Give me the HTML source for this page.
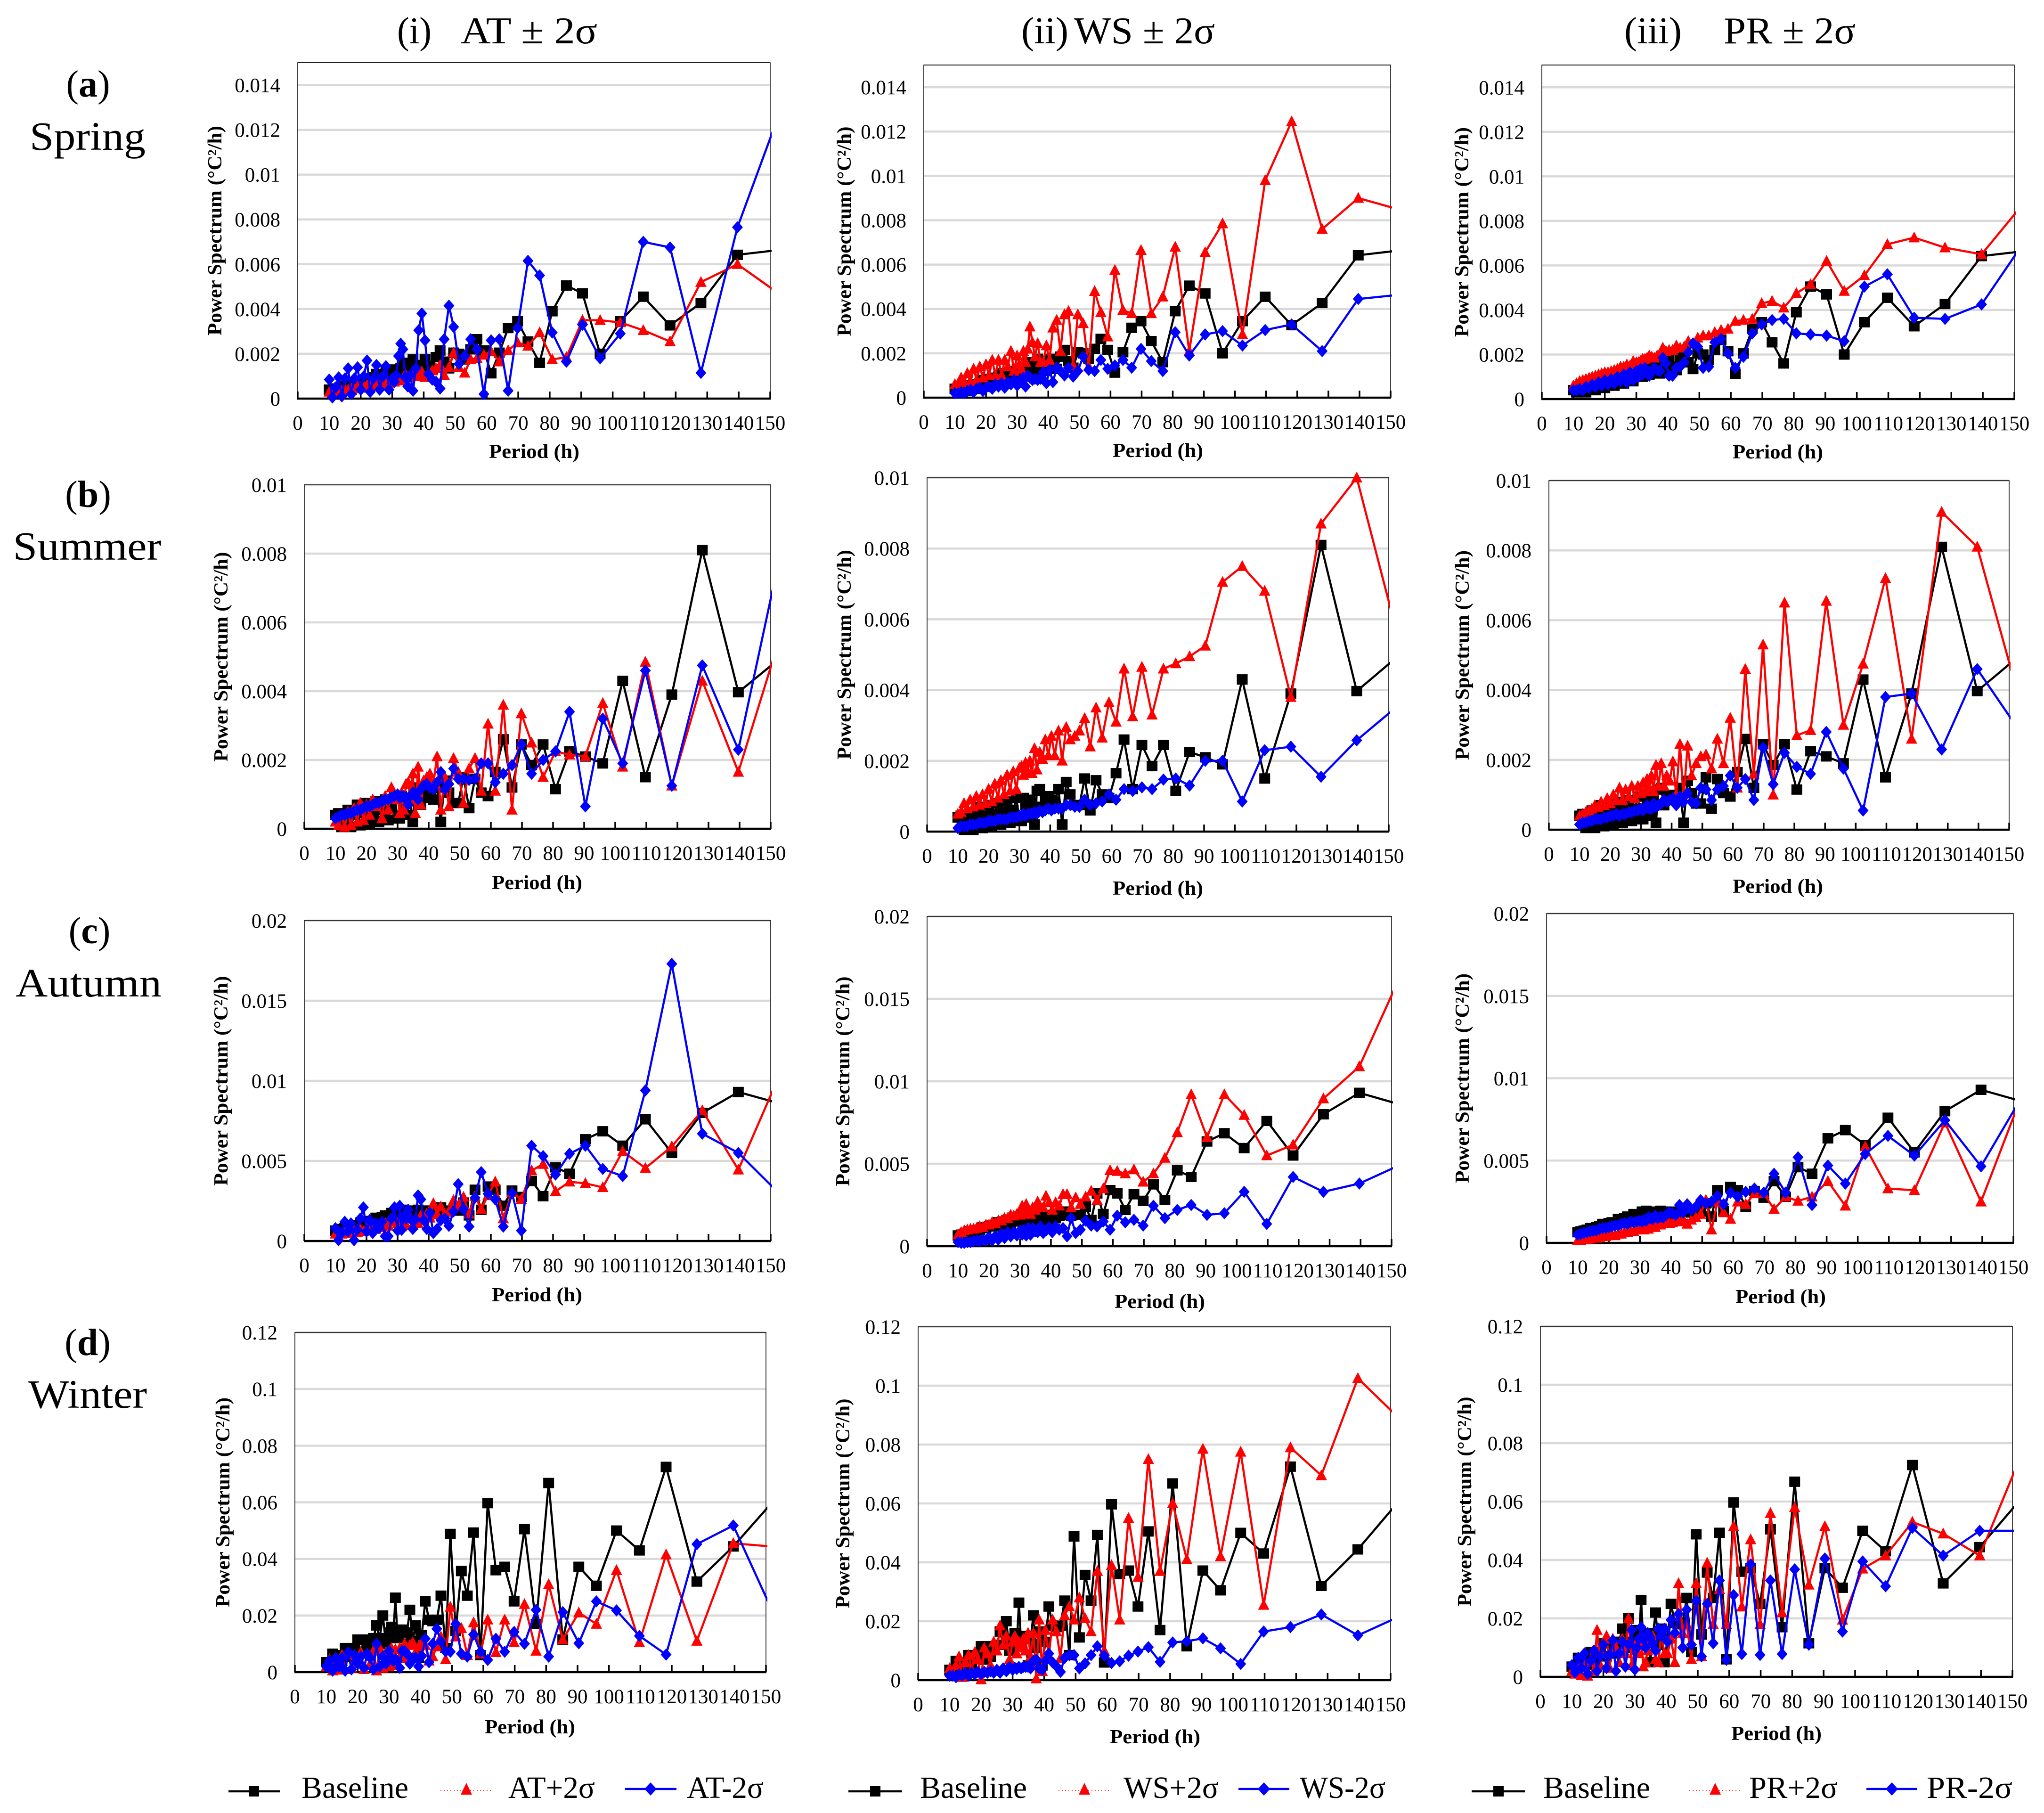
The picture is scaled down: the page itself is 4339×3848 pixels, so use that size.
<!DOCTYPE html>
<html lang="en">
<head>
<meta charset="utf-8">
<title>Power spectrum by season and perturbation</title>
<style>
html,body{margin:0;padding:0;background:#fff;}
svg{display:block;}
text{font-family:"Liberation Serif",serif;fill:#000;}
</style>
</head>
<body>
<svg id="figure" xmlns="http://www.w3.org/2000/svg" width="4339" height="3848" viewBox="0 0 4339 3848">
<rect x="0" y="0" width="4339" height="3848" fill="#fff"/>

<g font-size="80">
<text x="843" y="92" textLength="73" lengthAdjust="spacingAndGlyphs">(i)</text>
<text x="978" y="92" textLength="290" lengthAdjust="spacingAndGlyphs">AT ± 2σ</text>
<text x="2168" y="92" textLength="100" lengthAdjust="spacingAndGlyphs">(ii)</text>
<text x="2280" y="92" textLength="299" lengthAdjust="spacingAndGlyphs">WS ± 2σ</text>
<text x="3448" y="92" textLength="122" lengthAdjust="spacingAndGlyphs">(iii)</text>
<text x="3659" y="92" textLength="280" lengthAdjust="spacingAndGlyphs">PR ± 2σ</text>
</g>

<g font-size="86" text-anchor="middle">
<text x="187" y="205" font-size="80">(<tspan font-weight="bold">a</tspan>)</text>
<text x="186" y="318" textLength="246" lengthAdjust="spacingAndGlyphs">Spring</text>
<text x="187" y="1076" font-size="80">(<tspan font-weight="bold">b</tspan>)</text>
<text x="185" y="1188" textLength="315" lengthAdjust="spacingAndGlyphs">Summer</text>
<text x="190" y="2002" font-size="80">(<tspan font-weight="bold">c</tspan>)</text>
<text x="188" y="2115" textLength="310" lengthAdjust="spacingAndGlyphs">Autumn</text>
<text x="186" y="2876" font-size="80">(<tspan font-weight="bold">d</tspan>)</text>
<text x="186" y="2988" textLength="252" lengthAdjust="spacingAndGlyphs">Winter</text>
</g>

<g id="panels"></g>

<g font-size="66">
<g>
<line x1="485" y1="3802" x2="594" y2="3802" stroke="#000" stroke-width="4.5"/>
<rect x="528" y="3791" width="22" height="22" fill="#000"/>
<text x="640" y="3816" textLength="227" lengthAdjust="spacingAndGlyphs">Baseline</text>
</g>
<g>
<line x1="935" y1="3800" x2="1045" y2="3800" stroke="#f00" stroke-width="1.5" stroke-dasharray="2 5"/>
<polygon points="990,3784 1002,3809 978,3809" fill="#f00"/>
<text x="1079" y="3816" textLength="184" lengthAdjust="spacingAndGlyphs">AT+2σ</text>
</g>
<g>
<line x1="1327" y1="3797" x2="1436" y2="3797" stroke="#00f" stroke-width="4.5"/>
<polygon points="1381,3783 1394,3797 1381,3811 1368,3797" fill="#00f"/>
<text x="1458" y="3816" textLength="163" lengthAdjust="spacingAndGlyphs">AT-2σ</text>
</g>
</g>
<g font-size="66">
<g>
<line x1="1801" y1="3802" x2="1915" y2="3802" stroke="#000" stroke-width="4.5"/>
<rect x="1847" y="3791" width="22" height="22" fill="#000"/>
<text x="1953" y="3816" textLength="227" lengthAdjust="spacingAndGlyphs">Baseline</text>
</g>
<g>
<line x1="2247" y1="3800" x2="2357" y2="3800" stroke="#f00" stroke-width="1.5" stroke-dasharray="2 5"/>
<polygon points="2302,3784 2314,3809 2290,3809" fill="#f00"/>
<text x="2385" y="3816" textLength="202" lengthAdjust="spacingAndGlyphs">WS+2σ</text>
</g>
<g>
<line x1="2629" y1="3797" x2="2737" y2="3797" stroke="#00f" stroke-width="4.5"/>
<polygon points="2683,3783 2696,3797 2683,3811 2670,3797" fill="#00f"/>
<text x="2759" y="3816" textLength="182" lengthAdjust="spacingAndGlyphs">WS-2σ</text>
</g>
</g>
<g font-size="66">
<g>
<line x1="3124" y1="3802" x2="3237" y2="3802" stroke="#000" stroke-width="4.5"/>
<rect x="3170" y="3791" width="22" height="22" fill="#000"/>
<text x="3276" y="3816" textLength="227" lengthAdjust="spacingAndGlyphs">Baseline</text>
</g>
<g>
<line x1="3586" y1="3800" x2="3696" y2="3800" stroke="#f00" stroke-width="1.5" stroke-dasharray="2 5"/>
<polygon points="3641,3784 3653,3809 3629,3809" fill="#f00"/>
<text x="3713" y="3816" textLength="188" lengthAdjust="spacingAndGlyphs">PR+2σ</text>
</g>
<g>
<line x1="3962" y1="3797" x2="4070" y2="3797" stroke="#00f" stroke-width="4.5"/>
<polygon points="4016,3783 4029,3797 4016,3811 4003,3797" fill="#00f"/>
<text x="4090" y="3816" textLength="182" lengthAdjust="spacingAndGlyphs">PR-2σ</text>
</g>
</g>
</svg>

<script>
// Shared categories (period in hours) and tick labels
const periods = [153.6,139.6,128,118.2,109.7,102.4,96,90.4,85.3,80.8,
76.8,73.1,69.8,66.8,64,61.4,59.1,56.9,54.9,53,
51.2,49.5,48,46.5,45.2,43.9,42.7,41.5,40.4,39.4,
38.4,37.5,36.6,35.7,34.9,34.1,33.4,32.7,32,31.3,
30.7,30,29,28,27,26,25,24,23,22,21,20,19,18,17,16,15,14,13,12,11,10];
const xTickLabels = ["0","10","20","30","40","50","60","70","80","90","100","110","120","130","140","150"];
const springYTicks = ["0","0.002","0.004","0.006","0.008","0.01","0.012","0.014"];
const summerYTicks = ["0","0.002","0.004","0.006","0.008","0.01"];
const autumnYTicks = ["0","0.005","0.01","0.015","0.02"];
const winterYTicks = ["0","0.02","0.04","0.06","0.08","0.1","0.12"];

// Series values, in units of 0.001 degC^2/h
const springBaseline = [6.65,6.42,4.27,3.27,4.55,3.45,2.0,4.7,5.05,3.9,
1.6,2.55,3.45,3.15,2.05,1.13,2.15,2.65,2.2,1.75,
2.0,2.05,1.35,1.65,2.15,1.85,1.3,1.45,1.75,1.2,
1.5,1.15,1.75,1.3,1.5,1.1,1.6,1.35,1.0,1.2,
1.1,1.3,.8,1.2,1.05,.7,1.1,.95,.6,.9,.85,.5,.8,.65,.4,.6,.55,.3,.45,.45,.3,.4];
const springATplus = [4.6,6.0,5.2,2.55,3.05,3.4,3.5,3.5,1.85,1.75,
2.95,2.35,2.5,2.15,1.65,2.1,1.95,1.8,1.75,1.15,
1.4,2.05,1.4,1.05,1.5,1.35,1.25,1.05,.95,1.2,
1.0,1.0,1.05,1.0,.95,1.1,.85,.8,.9,.8,
.75,.75,.7,.8,.65,.6,.65,.7,.55,.6,.6,.5,.55,.45,.45,.4,.4,.35,.35,.3,.3,.3];
const springATminus = [13.0,7.65,1.15,6.75,7.0,2.9,1.8,3.3,1.65,2.95,
5.5,6.15,3.15,.35,2.65,2.6,.2,2.2,2.65,1.9,
1.55,3.2,4.15,2.65,.45,.75,.85,1.1,2.6,3.8,
3.05,1.35,.35,1.05,.55,.95,2.2,2.45,1.9,1.05,
.75,.9,.4,1.45,1.0,.4,1.5,.9,.3,1.7,1.0,.4,1.4,.9,.2,1.35,.9,.1,.95,.5,.05,.85];
const springWSplus = [8.45,9.0,7.6,12.45,9.8,2.85,7.85,6.55,2.1,6.8,
4.55,3.8,6.65,3.8,3.95,5.75,2.75,3.85,4.8,1.4,
3.35,3.75,1.45,3.9,3.75,2.1,3.5,3.15,1.7,2.35,
1.6,1.6,2.45,1.85,2.5,3.2,2.2,1.6,2.1,1.3,
1.5,1.9,1.2,2.1,1.4,1.7,1.0,1.7,1.0,1.7,1.0,1.5,.9,1.4,.8,1.3,.7,1.1,.7,.9,.6,.6];
const springWSminus = [4.65,4.45,2.1,3.3,3.05,2.35,3.0,2.85,1.9,2.95,
1.2,1.65,2.2,1.35,1.7,1.45,1.3,1.7,1.2,1.25,
1.85,1.2,.95,1.35,1.0,1.2,1.35,.7,1.25,.65,
1.15,.85,.8,.85,.8,.9,1.0,.5,.9,.7,
.75,.55,.8,.6,.7,.45,.65,.5,.6,.4,.5,.45,.3,.45,.4,.25,.35,.3,.2,.25,.2,.2];
const springPRplus = [8.9,6.5,6.8,7.25,6.95,5.55,4.85,6.2,5.15,4.75,
4.1,4.4,4.3,3.6,3.55,3.5,3.15,3.1,3.0,2.85,
2.85,2.75,2.5,2.6,2.35,2.3,2.4,2.2,2.2,2.15,
2.3,2.0,1.95,1.85,1.9,1.95,1.85,1.8,1.8,1.7,
1.65,1.65,1.7,1.5,1.55,1.45,1.45,1.35,1.3,1.25,1.2,1.2,1.15,1.1,1.05,1.0,.95,.9,.85,.8,.7,.6];
const springPRminus = [7.15,4.25,3.6,3.65,5.6,5.05,2.6,2.85,2.9,2.95,
3.6,3.55,3.35,2.95,1.9,1.4,2.05,2.7,2.55,1.45,
1.4,2.35,2.5,2.1,1.65,1.45,1.4,1.05,1.05,1.6,
1.85,1.25,1.3,1.4,1.25,1.05,1.3,1.4,1.1,1.35,
1.0,1.25,.85,1.2,.75,1.1,.8,1.0,.7,.9,.65,.85,.6,.75,.55,.65,.5,.55,.4,.45,.4,.4];

const summerBaseline = [5.0,3.97,8.1,3.9,1.5,4.3,1.9,2.1,2.25,1.15,
2.45,1.85,2.45,1.2,2.6,1.65,.95,1.05,1.45,.6,
1.5,.75,.75,1.05,1.4,.2,1.2,.85,.9,1.0,
.95,.7,1.2,1.15,.2,.8,.9,.4,.75,.95,
.3,.3,.95,.6,.25,.85,.55,.2,.8,.5,.15,.75,.45,.1,.7,.4,.05,.55,.3,.05,.45,.4];
const summerATplus = [5.75,1.65,4.3,1.25,4.85,1.8,3.65,2.1,2.15,2.25,
1.5,2.5,3.35,.55,3.6,1.1,3.05,1.1,2.05,1.75,
.75,1.65,2.05,.65,1.5,.55,2.1,1.3,1.6,1.5,
1.4,.7,1.8,.45,1.6,.85,1.35,1.3,.55,1.05,
.45,.9,.85,1.2,.55,.95,.3,.75,.65,.85,.4,.7,.25,.75,.2,.6,.1,.5,.05,.35,.1,.2];
const summerATminus = [8.2,2.3,4.75,1.25,4.6,1.9,3.2,.65,3.4,2.25,
2.0,1.6,2.45,1.85,1.6,1.35,1.9,1.9,1.45,1.42,
1.45,1.45,1.75,1.3,1.15,1.65,1.35,1.15,1.2,1.3,
1.25,1.15,.85,1.0,1.05,.95,.7,.85,.95,.95,
.9,1.0,.95,.9,.85,.85,.8,.75,.75,.7,.65,.65,.6,.55,.55,.5,.45,.45,.4,.4,.35,.3];
const summerWSplus = [5.3,10.0,8.7,3.8,6.8,7.5,7.05,5.25,4.95,4.75,
4.6,3.3,4.65,3.25,4.6,3.1,3.65,2.65,3.5,2.4,
3.2,2.85,2.7,2.6,2.95,2.0,2.85,2.15,2.7,2.15,
2.6,2.05,2.25,1.75,2.35,1.65,2.0,1.7,1.95,1.6,
1.85,1.8,1.2,1.7,1.15,1.6,1.05,1.45,.95,1.35,.85,1.2,.8,1.05,.75,1.0,.7,.9,.65,.8,.55,.5];
const summerWSminus = [3.6,2.58,1.55,2.4,2.3,.85,2.0,2.0,1.3,1.5,
1.47,1.2,1.25,1.15,1.2,.9,1.05,.85,.8,.75,
.9,.7,.7,.75,.75,.65,.65,.65,.6,.65,
.6,.55,.6,.5,.55,.5,.5,.5,.45,.5,
.45,.45,.4,.4,.4,.35,.35,.35,.35,.3,.3,.3,.25,.25,.25,.2,.2,.2,.15,.15,.15,.1];
const summerPRplus = [3.65,8.1,9.1,2.6,7.2,4.75,3.0,6.55,2.85,2.7,
6.5,1.0,5.3,1.6,4.6,1.2,3.2,1.9,2.6,1.75,
2.15,2.1,1.9,1.55,2.4,.9,2.45,1.0,1.95,1.4,
1.55,1.25,1.9,1.25,1.85,1.1,1.55,1.2,1.45,1.1,
1.35,1.05,1.25,.9,1.25,.95,1.15,.85,1.2,.85,1.0,.75,.9,.7,.8,.65,.7,.6,.55,.5,.45,.4];
const summerPRminus = [2.8,4.6,2.3,3.9,3.8,.55,1.75,2.8,1.6,1.8,
2.2,1.3,2.35,.85,1.45,1.2,1.55,1.25,1.15,.85,
1.15,1.2,.75,.8,1.05,.8,.95,.7,.9,.85,
.8,.85,.75,.7,.65,.75,.6,.6,.7,.6,
.55,.6,.55,.55,.5,.5,.45,.45,.4,.45,.4,.4,.35,.35,.3,.3,.3,.25,.25,.2,.2,.15];

const autumnBaseline = [8.55,9.3,8.0,5.5,7.6,5.95,6.85,6.35,4.2,4.6,
2.8,3.75,2.75,3.15,2.2,3.2,3.4,1.95,3.2,1.6,
2.4,1.9,1.9,1.85,1.9,2.1,1.85,1.7,1.9,1.5,
1.9,1.6,1.95,1.4,1.75,1.9,1.55,1.8,1.95,1.5,
1.9,1.7,1.5,1.75,1.3,1.6,1.5,1.3,1.45,1.2,1.25,1.2,1.1,1.15,1.0,.95,.9,.9,.8,.75,.7,.65];
const autumnATplus = [10.7,4.45,8.15,5.9,4.55,5.6,3.35,3.6,3.7,3.1,
4.8,4.4,2.6,3.05,1.4,3.7,2.85,2.0,2.8,1.7,
2.75,2.2,2.55,1.85,1.65,2.15,1.65,2.35,1.45,1.7,
1.3,1.6,1.1,1.4,1.0,1.5,1.4,1.0,1.3,.9,
1.4,1.1,1.2,1.35,.95,1.1,.9,.85,.75,.9,.65,.8,.6,.75,.55,.65,.6,.5,.55,.45,.5,.45];
const autumnATminus = [2.8,5.5,6.7,17.3,9.4,4.05,4.5,5.95,5.45,4.15,
5.3,5.95,.65,3.0,.9,2.6,2.95,4.3,2.7,.9,
2.0,3.55,1.85,.95,1.4,1.3,.75,.5,1.75,.75,
1.3,2.6,2.85,1.35,.75,1.4,1.95,1.4,1.55,.7,
2.2,.65,2.1,1.4,.3,.3,1.2,.8,1.1,.5,1.3,.6,2.1,1.4,.7,.05,1.1,.6,1.2,.5,.05,.8];
const autumnWSplus = [16.7,10.9,8.95,6.15,5.5,7.95,9.2,6.6,9.2,6.9,
5.35,4.4,3.9,4.65,4.4,4.55,4.6,3.5,2.8,3.35,
3.0,2.55,2.95,2.35,3.15,3.15,2.45,2.65,2.2,2.65,
3.05,2.35,2.4,2.7,2.2,2.35,1.95,2.05,2.55,2.0,
2.45,1.9,1.95,1.85,1.9,1.7,1.7,1.55,1.55,1.4,1.45,1.3,1.3,1.15,1.2,1.1,1.05,1.05,1.0,.95,.85,.7];
const autumnWSminus = [5.0,3.8,3.3,4.2,1.35,3.3,2.0,1.9,2.5,2.2,
1.7,2.45,1.25,1.6,1.45,1.85,1.0,1.5,1.2,1.25,
1.55,1.0,.8,1.7,.6,1.1,1.0,1.2,.85,1.15,
.95,.8,1.2,.85,.9,1.1,.7,1.1,.65,1.0,
.7,.95,.65,.85,.6,.85,.5,.75,.4,.6,.35,.55,.35,.4,.3,.35,.3,.25,.25,.2,.2,.25];
const autumnPRplus = [9.4,2.5,7.3,3.2,3.3,5.85,2.25,3.75,2.8,2.55,
2.8,2.05,3.0,3.0,2.35,2.5,1.45,1.85,2.5,.8,
2.6,1.75,1.55,1.4,1.15,1.45,1.3,1.45,1.25,1.2,
1.35,1.25,1.1,1.2,.95,1.15,1.0,.85,1.05,.8,
.95,.8,.9,.7,.75,.65,.65,.55,.55,.45,.5,.45,.4,.4,.35,.3,.3,.25,.2,.2,.15,.15];
const autumnPRminus = [9.15,4.65,7.45,5.3,6.5,5.4,3.6,4.7,2.3,5.2,
3.05,4.2,3.05,3.3,3.1,2.8,3.05,2.35,2.85,2.5,
2.4,2.6,2.2,2.0,2.35,1.85,2.3,1.7,1.8,1.85,
1.7,1.55,1.6,1.5,1.65,1.45,1.5,1.55,1.35,1.4,
1.3,1.35,1.3,1.25,1.3,1.15,1.2,1.15,1.05,1.05,1.0,.95,.9,.9,.85,.75,.75,.7,.65,.6,.55,.5];

const winterBaseline = [62,44.4,32,72.5,43,50,30.5,37.2,11.5,66.8,
17,50.5,25,37.2,36,59.7,6,49.3,27,35.7,
14.5,48.8,8.5,27,18.5,18,18.5,25,13,5,
16.5,11,22,14,5,15,15,12,26.3,12,
16,14,10,20,12,16.5,12,11.5,8,11.5,7,11.5,8.5,8,5.5,8.5,4,6,3.5,6.5,3,3.5];
const winterATplus = [44.2,45.5,11,41.5,10.5,36,17,21,11.5,31,
7.5,24,10.5,18.5,7,18.5,6.5,17.5,6,15.5,
12.5,23,4.5,12.5,9,5.5,4,9.5,10.5,9,
7,10.5,9.5,5,10,5,8.5,2.5,8,3,
8.5,2,7,1.5,8.5,.5,7.5,3,6.5,1,7,3,6,1.5,7,1,6,.8,5,.5,4.5,2];
const winterATminus = [17.8,51.8,45.2,6.2,12.8,21.8,25,10.2,21.2,5.5,
22,10,14.2,7.2,11.8,4.3,7.2,13.3,5.5,6.5,
17,7.2,7.3,10.8,15.3,10,3.5,11.8,5.7,2,
5.2,4.7,3,6.5,7.5,7.5,1.5,4,4.5,4,
5,7.5,3,5.5,2,10,1,5,6.5,1.5,5.5,3,6,1,7,.5,5,2,5,.5,4,2];
const winterWSplus = [88,102.5,69.5,79,25.5,77.5,42,78.5,41,60,
37,75,35,55,20.5,39,10,37,16.5,21,
28,20.5,25,22,7.5,16.5,20.5,8,17,3,
20.5,.5,16,8,16,10,14,11,13,9,
15,13,7,15,12,18.5,10,13,5,9,11,.2,7,9.5,3.5,8.5,6,1,8,5,2,4];
const winterWSminus = [22,15.2,22.3,18,16.5,5.5,10.8,14.2,13.2,12.8,
6.2,11.2,9.7,8.3,6.4,5.8,8.3,11.5,8.5,5.7,
4,8.5,8.5,7.5,2.8,4.7,6,9,6.5,3.5,
4,7,6.5,4,4.5,4.5,4.5,4,4.5,3.8,
4.2,3.5,4.5,3,4,2.5,3.5,2.5,3,2.5,2.8,2,2.8,2,2.5,1.5,2.5,1.5,2,1,1.5,1.5];
const winterPRplus = [78,41.5,49,53,41.5,37,19.5,51.5,31.5,58,
22,56,18,47,24,51.5,18,30,18,39,
7,32,6,18,15,32,5,13,8,8,
15,5,6,14,12,9,5,3.5,13,8,
12,9,4,20,8,13,5,10,13,3,14,8,4,16,2,6,.3,5,.5,4,1,2];
const winterPRminus = [50,50,41.5,51,31,39.5,15.5,40.5,11,36.8,
7.8,33,7.5,38.5,7.8,28,5.8,33,11.5,25,
7,26,11,23,10,21.5,15,19.5,12,16.5,
14,16.5,9,11.5,13.5,15,10,13,17,13,
10,2.5,16,11,3.5,12,8,2,12.5,7.5,3,11,7,2,9,5.5,1,8,3,6.5,1.5,4];

const SVGNS = "http://www.w3.org/2000/svg";
const panelsRoot = document.getElementById("panels");

function mk(tag, parent, attrs) {
  const el = document.createElementNS(SVGNS, tag);
  for (const k in attrs) el.setAttribute(k, attrs[k]);
  parent.appendChild(el);
  return el;
}

const panelConfigs = [
  {id:"spring-at",L:632,R:1635,T:133,B:846,yMax:15,ticks:springYTicks,yTitleX:457,xTitleX:1134,xTitleDy:126,s:[springBaseline,springATplus,springATminus]},
  {id:"spring-ws",L:1961,R:2952,T:138,B:844,yMax:15,ticks:springYTicks,yTitleX:1793,xTitleX:2458,xTitleDy:126,s:[springBaseline,springWSplus,springWSminus]},
  {id:"spring-pr",L:3273,R:4276,T:138,B:847,yMax:15,ticks:springYTicks,yTitleX:3104,xTitleX:3774,xTitleDy:126,s:[springBaseline,springPRplus,springPRminus]},
  {id:"summer-at",L:646,R:1636,T:1029,B:1759,yMax:10,ticks:summerYTicks,yTitleX:470,xTitleX:1140,xTitleDy:128,s:[summerBaseline,summerATplus,summerATminus]},
  {id:"summer-ws",L:1968,R:2948,T:1014,B:1765,yMax:10,ticks:summerYTicks,yTitleX:1793,xTitleX:2458,xTitleDy:134,s:[summerBaseline,summerWSplus,summerWSminus]},
  {id:"summer-pr",L:3288,R:4265,T:1020,B:1761,yMax:10,ticks:summerYTicks,yTitleX:3105,xTitleX:3774,xTitleDy:134,s:[summerBaseline,summerPRplus,summerPRminus]},
  {id:"autumn-at",L:646,R:1636,T:1954,B:2634,yMax:20,ticks:autumnYTicks,yTitleX:470,xTitleX:1140,xTitleDy:128,s:[autumnBaseline,autumnATplus,autumnATminus]},
  {id:"autumn-ws",L:1968,R:2954,T:1945,B:2645,yMax:20,ticks:autumnYTicks,yTitleX:1790,xTitleX:2462,xTitleDy:131,s:[autumnBaseline,autumnWSplus,autumnWSminus]},
  {id:"autumn-pr",L:3283,R:4274,T:1939,B:2638,yMax:20,ticks:autumnYTicks,yTitleX:3105,xTitleX:3780,xTitleDy:128,s:[autumnBaseline,autumnPRplus,autumnPRminus]},
  {id:"winter-at",L:626,R:1626,T:2828,B:3549,yMax:120,ticks:winterYTicks,yTitleX:474,xTitleX:1125,xTitleDy:130,s:[winterBaseline,winterATplus,winterATminus]},
  {id:"winter-ws",L:1949,R:2952,T:2816,B:3566,yMax:120,ticks:winterYTicks,yTitleX:1790,xTitleX:2452,xTitleDy:134,s:[winterBaseline,winterWSplus,winterWSminus]},
  {id:"winter-pr",L:3270,R:4272,T:2815,B:3559,yMax:120,ticks:winterYTicks,yTitleX:3110,xTitleX:3771,xTitleDy:134,s:[winterBaseline,winterPRplus,winterPRminus]}
];
const seriesColors = ["#000000","#ff0000","#0000ff"];
const seriesKeys = ["baseline","plus-2-sigma","minus-2-sigma"];

function drawMarker(g, kind, x, y) {
  let m;
  if (kind === 0) {
    m = mk("rect", g, {x:x-11.5, y:y-11, width:23, height:22, fill:"#000"});
  } else if (kind === 1) {
    m = mk("polygon", g, {points:(x)+","+(y-13)+" "+(x+12)+","+(y+10)+" "+(x-12)+","+(y+10), fill:"#f00"});
  } else {
    m = mk("polygon", g, {points:(x)+","+(y-13)+" "+(x+11.5)+","+y+" "+(x)+","+(y+13)+" "+(x-11.5)+","+y, fill:"#00f"});
  }
  
  
}

panelConfigs.forEach(function (p) {
  const g = mk("g", panelsRoot, {});
  
  

  const xScale = function (v) { return p.L + (v / 150) * (p.R - p.L); };
  const yScale = function (v) { return p.B - (v / p.yMax) * (p.B - p.T); };

  const frame = mk("rect", g, {x:p.L, y:p.T, width:p.R-p.L, height:p.B-p.T, fill:"#fff", stroke:"#000", "stroke-width":1.5});
  
  

  p.ticks.forEach(function (t) {
    const yy = yScale(Number(t) * 1000);
    if (Number(t) !== 0) {
      const gl = mk("line", g, {x1:p.L+1, x2:p.R-1, y1:yy, y2:yy, stroke:"#d9d9d9", "stroke-width":4.5});
      
      
    }
    const lab = mk("text", g, {x:p.L-37, y:yy+15, "font-size":43, "text-anchor":"end"});
    lab.textContent = t;
    
    
  });

  const top = mk("line", g, {x1:p.L, x2:p.R, y1:p.T, y2:p.T, stroke:"#000", "stroke-width":1.5});
  
  

  xTickLabels.forEach(function (t) {
    const xx = xScale(Number(t));
    const tick = mk("line", g, {x1:xx, x2:xx, y1:p.B-15, y2:p.B, stroke:"#000", "stroke-width":3.5});
    
    
    const lab = mk("text", g, {x:xx, y:p.B+66, "font-size":43, "text-anchor":"middle"});
    lab.textContent = t;
    
    
  });

  const axis = mk("line", g, {x1:p.L-1, x2:p.R+1, y1:p.B, y2:p.B, stroke:"#000", "stroke-width":4.5});
  
  

  const clipId = "clip-" + p.id;
  const clip = mk("clipPath", g, {id:clipId});
  mk("rect", clip, {x:p.L-30, y:p.T-40, width:p.R-p.L+33, height:p.B-p.T+80});

  p.s.forEach(function (vals, si) {
    const sg = mk("g", g, {"clip-path":"url(#"+clipId+")"});
    
    
    const pts = vals.map(function (v, i) { return xScale(periods[i]).toFixed(1) + "," + yScale(v).toFixed(1); }).join(" ");
    const line = mk("polyline", sg, {points:pts, fill:"none", stroke:seriesColors[si], "stroke-width":4.5, "stroke-linejoin":"round"});
    
    
    vals.forEach(function (v, i) {
      if (periods[i] <= 150) drawMarker(sg, si, xScale(periods[i]), yScale(v));
    });
  });

  const ym = (p.T + p.B) / 2;
  const yt = mk("text", g, {transform:"translate("+(p.yTitleX+13)+","+ym+") rotate(-90)", "font-size":42, "font-weight":"bold", "text-anchor":"middle", textLength:445, lengthAdjust:"spacingAndGlyphs"});
  yt.textContent = "Power Spectrum (°C²/h)";
  
  

  const xt = mk("text", g, {x:p.xTitleX, y:p.B+p.xTitleDy, "font-size":42, "font-weight":"bold", "text-anchor":"middle", textLength:192, lengthAdjust:"spacingAndGlyphs"});
  xt.textContent = "Period (h)";
  
  
});
</script>
</body>
</html>
